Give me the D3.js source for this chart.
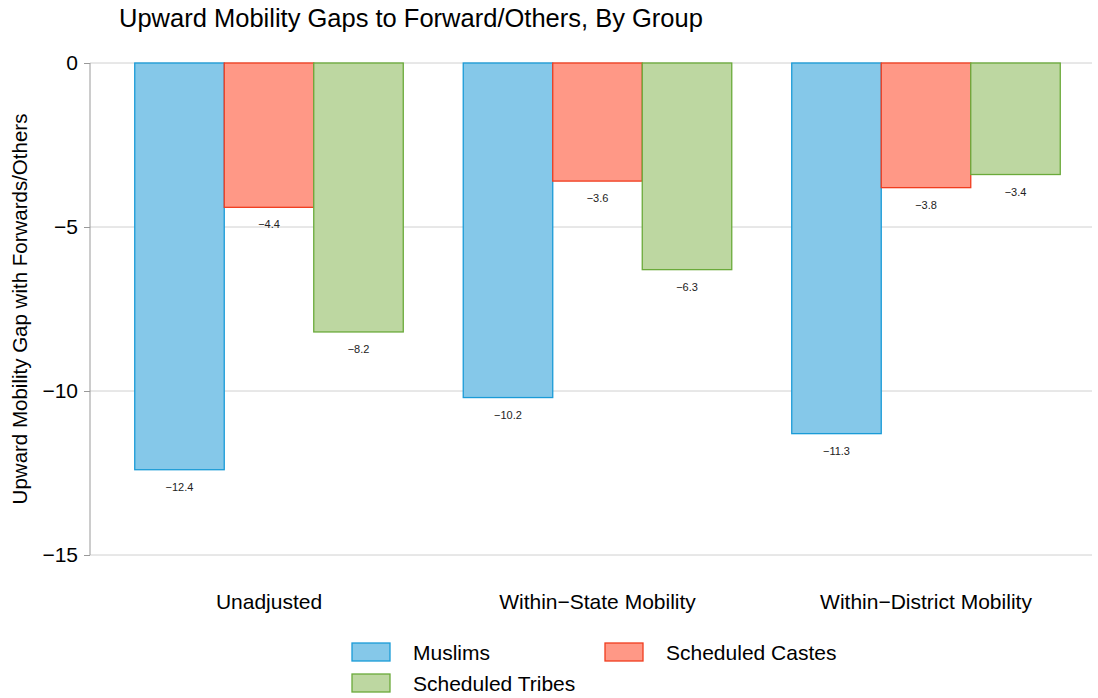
<!DOCTYPE html>
<html>
<head>
<meta charset="utf-8">
<script src="https://cdn.jsdelivr.net/npm/d3@7"></script>
<style>
  body { margin: 0; background: #fff; }
  text { font-family: "Liberation Sans", Arial, sans-serif; }
</style>
</head>
<body>
<div id="chart"></div>
<script>
var groups = ["Unadjusted", "Within\u2212State Mobility", "Within\u2212District Mobility"];
var series = ["Muslims", "Scheduled Castes", "Scheduled Tribes"];
var muslims = [-12.4, -10.2, -11.3];
var castes = [-4.4, -3.6, -3.8];
var tribes = [-8.2, -6.3, -3.4];
var yTicks = [0, -5, -10, -15];

var fills = ["#85c8e9", "#ff9886", "#bdd7a1"];
var strokes = ["#1a9bd7", "#f03c1e", "#6aaa3a"];

var values = [muslims, castes, tribes];

var width = 1098;
var height = 698;

var svg = d3.select("#chart")
  .append("svg")
    .attr("width", width)
    .attr("height", height);

var x = d3.scaleBand()
  .domain(groups)
  .range([104.75, 1090.25])
  .paddingInner(0.1826)
  .paddingOuter(0.0913);

var xSub = d3.scaleBand()
  .domain(series)
  .range([0, x.bandwidth()]);

var y = d3.scaleLinear()
  .domain([-15, 0])
  .range([555, 63]);

var fmt = function(v) { return d3.format(".1f")(v).replace("-", "\u2212"); };

// gridlines
svg.append("g")
  .selectAll("line")
  .data(yTicks)
  .enter()
  .append("line")
    .attr("x1", 90)
    .attr("x2", 1092)
    .attr("y1", function(d) { return y(d); })
    .attr("y2", function(d) { return y(d); })
    .style("stroke", "#d0d0d0")
    .style("stroke-width", 1);

// y axis
var yAxis = svg.append("g")
  .attr("transform", "translate(90,0)")
  .call(d3.axisLeft(y).tickValues(yTicks).tickSize(6).tickPadding(6)
    .tickFormat(function(d) { return d3.format("d")(d).replace("-", "\u2212"); }));
yAxis.select(".domain").style("stroke", "#999").attr("d", "M0," + y(0) + "V" + y(-15));
yAxis.selectAll(".tick line").style("stroke", "#999");
yAxis.selectAll(".tick text")
  .style("font-size", "21px")
  .style("fill", "#000")
  .attr("font-family", null);

svg.append("text")
  .attr("transform", "translate(27," + y(-7.5) + ") rotate(-90)")
  .attr("text-anchor", "middle")
  .style("font-size", "20.5px")
  .text("Upward Mobility Gap with Forwards/Others");

// bars
series.forEach(function(s, i) {
  var g = svg.append("g");
  g.selectAll("rect")
    .data(values[i])
    .enter()
    .append("rect")
      .attr("x", function(d, j) { return x(groups[j]) + xSub(s); })
      .attr("y", y(0))
      .attr("width", xSub.bandwidth())
      .attr("height", function(d) { return y(d) - y(0); })
      .style("fill", fills[i])
      .style("stroke", strokes[i])
      .style("stroke-width", 1.3);
  g.selectAll("text")
    .data(values[i])
    .enter()
    .append("text")
      .attr("x", function(d, j) { return x(groups[j]) + xSub(s) + xSub.bandwidth() / 2; })
      .attr("y", function(d) { return y(d) + 21; })
      .attr("text-anchor", "middle")
      .style("font-size", "11px")
      .style("fill", "#222")
      .text(function(d) { return fmt(d); });
});

// x labels
svg.append("g")
  .selectAll("text")
  .data(groups)
  .enter()
  .append("text")
    .attr("x", function(d) { return x(d) + x.bandwidth() / 2; })
    .attr("y", 609)
    .attr("text-anchor", "middle")
    .style("font-size", "21px")
    .text(function(d) { return d; });

// title
svg.append("text")
  .attr("x", 119)
  .attr("y", 27)
  .style("font-size", "25.5px")
  .text("Upward Mobility Gaps to Forward/Others, By Group");

// legend
var legendPos = [[352, 643], [605, 643], [352, 674]];
series.forEach(function(s, i) {
  var lg = svg.append("g")
    .attr("transform", "translate(" + legendPos[i][0] + "," + legendPos[i][1] + ")");
  lg.append("rect")
    .attr("width", 38)
    .attr("height", 18)
    .style("fill", fills[i])
    .style("stroke", strokes[i])
    .style("stroke-width", 1.3);
  lg.append("text")
    .attr("x", 61)
    .attr("y", 16.5)
    .style("font-size", "21px")
    .text(s);
});
</script>
</body>
</html>
